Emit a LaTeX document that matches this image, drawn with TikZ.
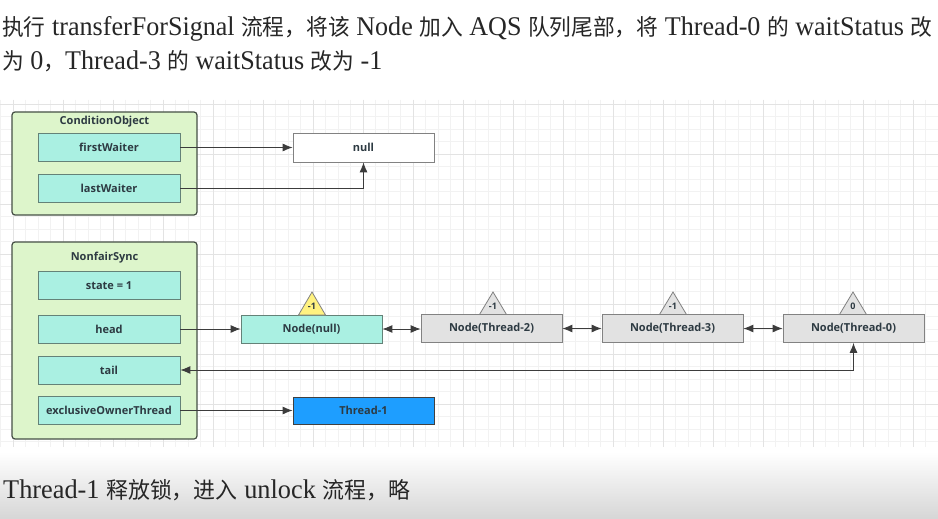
\documentclass[tikz,border=0pt]{standalone}
\usepackage{fontspec}
\usepackage{graphicx}
\setmainfont{Liberation Serif}
\newfontfamily\cjk{Noto Sans CJK SC}
\newfontfamily\boxfont{Open Sans}
\usetikzlibrary{arrows.meta,shadings}
\definecolor{cgreen}{RGB}{221,245,203}
\definecolor{cborder}{RGB}{70,80,70}
\definecolor{cfield}{RGB}{170,240,226}
\definecolor{cfieldb}{RGB}{100,130,120}
\definecolor{cgrey}{RGB}{226,226,226}
\definecolor{cgreyb}{RGB}{130,130,130}
\definecolor{cblue}{RGB}{30,158,255}
\definecolor{cyel}{RGB}{255,242,128}
\definecolor{ctext}{RGB}{45,58,66}
\definecolor{carrow}{RGB}{60,60,60}
\newcommand{\zh}[1]{{\cjk\fontsize{22.5}{26}\selectfont #1}}
\newcommand{\hdfont}{\fontsize{27}{30}\selectfont}
\newcommand{\lineA}{\hdfont\zh{执行} transferForSignal \zh{流程，将该} Node \zh{加入} AQS \zh{队列尾部，将} Thread-0 \zh{的} waitStatus \zh{改}}
\newcommand{\lineB}{\hdfont\zh{为} 0\zh{，}Thread-3 \zh{的} waitStatus \zh{改为} -1}
\newcommand{\lineC}{\hdfont Thread-1 \zh{释放锁，进入} unlock \zh{流程，略}}
\newlength\hdw
\newlength\btw
\settowidth\hdw{\lineA}
\settowidth\btw{\lineC}
\pgfmathsetmacro\hsx{930/\the\hdw}
\pgfmathsetmacro\bsx{407/\the\btw}
\begin{document}
\begin{tikzpicture}[x=1pt,y=-1pt,
  container/.style={draw=cborder,fill=cgreen,rounded corners=3pt,line width=1.2pt},
  field/.style={draw=cfieldb,fill=cfield,line width=0.8pt,minimum width=142pt,minimum height=28pt,inner sep=0pt,font=\boxfont\bfseries\fontsize{11}{13}\selectfont,text=ctext},
  title/.style={font=\boxfont\bfseries\fontsize{11}{13}\selectfont,text=ctext,inner sep=0pt},
  qnode/.style={field,draw=cgreyb,fill=cgrey,minimum width=141pt},
  tri/.style={draw=cgreyb,fill=cgrey,line width=0.8pt,line join=miter},
  wlabel/.style={font=\boxfont\bfseries\fontsize{9}{10}\selectfont,text=ctext,inner sep=0pt},
  link/.style={draw=carrow,line width=0.9pt,-{Latex[length=10pt,width=8pt]}},
  dlink/.style={draw=carrow,line width=0.9pt,{Latex[length=10pt,width=8pt]}-{Latex[length=10pt,width=8pt]}},
  hd/.style={anchor=base west,inner sep=0pt,text=black!85}
]
\useasboundingbox (0,0) rectangle (938,519);
\fill[white] (0,0) rectangle (938,519);
% grid
\begin{scope}
\clip (0,100) rectangle (938,447);
\foreach \i in {0,...,76} {\draw[black!5,line width=0.5pt] (0.5+\i*12.5,100) -- (0.5+\i*12.5,447);}
\foreach \i in {0,...,28} {\draw[black!5,line width=0.5pt] (0,91.5+\i*12.5) -- (938,91.5+\i*12.5);}
\foreach \i in {0,...,19} {\draw[black!11,line width=0.7pt] (13+\i*50,100) -- (13+\i*50,447);}
\foreach \i in {0,...,7} {\draw[black!11,line width=0.7pt] (0,104+\i*50) -- (938,104+\i*50);}
\end{scope}
\shade[top color=white,bottom color={rgb,255:red,214;green,214;blue,214}] (0,452) rectangle (938,519);
% header text
\node[hd] (h1) at (2,36) {\scalebox{\hsx}[1]{\lineA}};
\node[hd] (h2) at (2,70) {\scalebox{\hsx}[1]{\lineB}};
\node[hd] (b1) at (3,498) {\scalebox{\bsx}[1]{\lineC}};
% ConditionObject
\node[container,minimum width=185pt,minimum height=103pt] (co) at (104.5,163.5) {};
\node[title] (cot) at (104.5,122) {ConditionObject};
\node[field] (fw) at (109,147.5) {firstWaiter};
\node[field] (lw) at (109,188) {lastWaiter};
\node[field,draw=cgreyb,fill=white,minimum width=141pt,minimum height=29pt] (nul) at (363.5,147.5) {null};
% NonfairSync
\node[container,minimum width=185pt,minimum height=197pt] (ns) at (104.5,340.5) {};
\node[title] (nst) at (104.5,258) {NonfairSync};
\node[field] (st) at (109,285.5) {state = 1};
\node[field] (hd) at (109,329) {head};
\node[field] (tl) at (109,370) {tail};
\node[field] (eot) at (109,410.5) {exclusiveOwnerThread};
% queue
\node[field,minimum width=141pt] (nn) at (311.5,329) {Node(null)};
\node[qnode] (t2) at (491.5,328.5) {Node(Thread-2)};
\node[qnode] (t3) at (672.5,328.5) {Node(Thread-3)};
\node[qnode] (t0) at (853.5,328.5) {Node(Thread-0)};
\node[field,draw=black!75,fill=cblue,minimum width=141pt,minimum height=27pt] (th1) at (363.5,410.5) {Thread-1};
% waitStatus triangles
\draw[tri,fill=cyel] (298.5,315) -- (312,292) -- (325.5,315) -- cycle;
\node[wlabel] (w1) at (312,306) {-1};
\draw[tri] (479.5,314.5) -- (493,292) -- (506.5,314.5) -- cycle;
\node[wlabel] (w2) at (493,306) {-1};
\draw[tri] (659.5,314.5) -- (673,292) -- (686.5,314.5) -- cycle;
\node[wlabel] (w3) at (673,306) {-1};
\draw[tri] (839.5,314.5) -- (853,292) -- (866.5,314.5) -- cycle;
\node[wlabel] (w0) at (853,306) {0};
% connectors
\draw[link] (fw.east) -- (nul.west);
\draw[link] (lw.east) -| (nul.south);
\draw[link] (hd.east) -- (nn.west);
\draw[dlink] (nn.east) -- (t2.west |- nn.east);
\draw[dlink] (t2.east) -- (t3.west);
\draw[dlink] (t3.east) -- (t0.west);
\draw[dlink] (t0.south) |- (tl.east);
\draw[link] (eot.east) -- (th1.west);
\end{tikzpicture}
\end{document}
